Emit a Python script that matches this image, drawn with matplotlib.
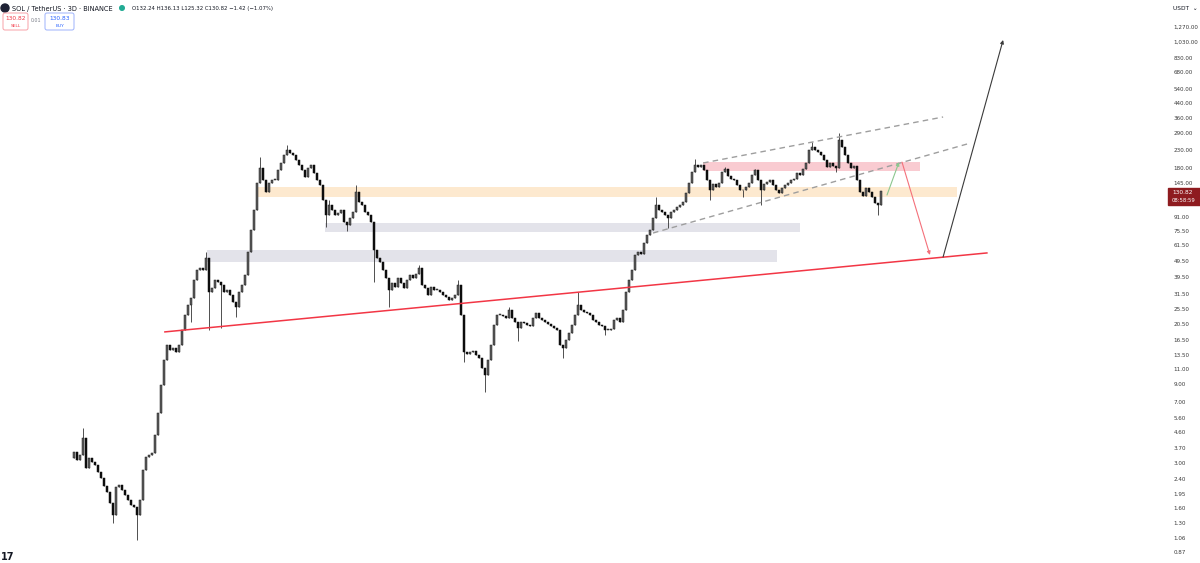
import numpy as np
import matplotlib
matplotlib.use("Agg")
import matplotlib.pyplot as plt
from matplotlib.patches import FancyBboxPatch, Rectangle, Circle

# SOL/USDT 3D closes (one value per ~3 px of chart width)
closes = [
    3.5, 3.13, 3.35, 4.25, 2.8, 3.2, 3.05, 2.92, 2.65, 2.44,
    2.18, 2.0, 1.73, 1.46, 2.15, 2.21, 2.06, 1.93, 1.80, 1.68,
    1.63, 1.46, 1.80, 2.72, 3.25, 3.35, 3.47, 4.4, 6.0, 8.86,
    12.5, 15.4, 14.4, 14.8, 14.0, 15.4, 19.0, 23.4, 26.9, 29.6,
    38.0, 43.6, 44.9, 43.6, 51.5, 32.2, 34.0, 38.0, 37.0, 35.4,
    32.2, 33.1, 30.9, 28.0, 26.0, 32.2, 35.4, 40.7, 56, 76,
    100, 146, 180, 152, 128, 146, 152, 152, 175, 192,
    215, 231, 221, 215, 201, 187, 175, 159, 180, 187,
    168, 152, 142, 115, 93.6, 107.5, 100, 93.6, 96, 100,
    85, 81.5, 90, 97.5, 128, 112, 107.5, 97.5, 93.6, 85,
    57.6, 51.5, 48.6, 43.6, 39, 33.1, 36.4, 34.5, 39, 36.4,
    34, 38, 40.7, 39, 41.2, 44.9, 35.4, 34, 30.9, 34.5,
    33.1, 33.1, 32.2, 30.9, 30.0, 28.8, 29.6, 30.9, 35.4, 23.4,
    14, 13.6, 14, 14.2, 13.4, 12.9, 11.2, 10.2, 12.5, 15.4,
    20.4, 23.4, 23.4, 23.1, 22.4, 25.1, 22.4, 21.3, 19.6, 21.3,
    21.0, 20.4, 20.1, 22.4, 24.0, 22.4, 21.8, 21.3, 20.7, 20.1,
    19.6, 19.0, 15.4, 14.8, 16.5, 18.2, 20.4, 23.4, 26.9, 25.1,
    24.5, 24.2, 23.4, 21.8, 21.3, 20.4, 20.1, 19.0, 19.0, 19.3,
    21.8, 22.4, 21.3, 25.1, 32.2, 38, 43.6, 53.8, 55.8, 54.5,
    63.5, 70.9, 76, 90, 107.5, 100.3, 97.5, 93.6, 90, 97.5,
    100.3, 104, 107.5, 112, 127, 146, 170, 187, 182, 187,
    175, 152, 132, 144, 139, 146, 170, 178, 160, 155,
    152, 142, 132, 132, 139, 146, 163, 175, 152, 132,
    144, 148, 152, 142, 132, 127, 137, 142, 146, 152,
    155, 168, 163, 178, 192, 231, 241, 231, 224, 215,
    201, 183, 192, 184, 180, 265, 241, 215, 192, 180,
    184, 152, 128, 122, 137, 128, 120, 111, 107.5, 130.8,
]
first_open = 3.2

# long wicks visible on the chart (candle index -> price)
wick_high = {3: 4.87, 44: 56, 62: 210, 71: 247, 85: 115, 94: 142, 115: 46.8,
             128: 38, 145: 26, 168: 32, 194: 120, 207: 204, 217: 183,
             227: 178, 246: 258, 255: 290}
wick_low = {13: 1.3, 21: 1.03, 39: 21.2, 45: 19.0, 49: 19.5, 54: 22.8,
            84: 79, 91: 74.6, 100: 37, 105: 26, 130: 12.2, 137: 8.0,
            148: 16.2, 163: 12.9, 177: 17.7, 198: 78, 212: 115, 223: 120,
            229: 107, 254: 170, 268: 93.6}

# price scale labels
tick_vals = [1270, 1030, 830, 680, 540, 440, 360, 290, 230, 180, 145,
             91, 75.5, 61.5, 49.5, 39.5, 31.5, 25.5, 20.5, 16.5, 13.5, 11,
             9, 7, 5.6, 4.6, 3.7, 3.0, 2.4, 1.95, 1.6, 1.3, 1.06, 0.87]

# drawings: (x in candle index, price)
trend_x, trend_p = [30.3, 304.3], [18.5, 55.3]
zones = [  # x0, x1, low, high, colour
    (61.3, 294.3, 120.2, 138.0, "#fde9cf"),
    (209.7, 282.0, 172.3, 195.2, "#f9cbd1"),
    (83.7, 242.0, 73.9, 83.8, "#e3e3ea"),
    (44.3, 234.3, 48.8, 57.6, "#e3e3ea"),
]
chan_up_x, chan_up_p = [209.7, 289.7], [192.6, 364.5]
chan_lo_x, chan_lo_p = [193.0, 297.7], [72.9, 250.6]
green_x, green_p = [271.0, 275.0], [123.5, 195.0]
red_x, red_p = [276.0, 285.3], [195.0, 53.8]
black_x, black_p = [289.7, 309.7], [52.3, 1061.0]

W, H = 1200, 563
fig = plt.figure(figsize=(W / 100, H / 100), dpi=100)
fig.patch.set_facecolor("white")
ax = fig.add_axes([0, 0, 1165 / W, 1])
ax.set_facecolor("white")
for s in ax.spines.values():
    s.set_visible(False)

ax.set_yscale("log")
ax.set_xlim((0 - 74) / 3, (1165 - 74) / 3)
ax.set_ylim(0.75, 1847)

# zones
for x0, x1, lo, hi, c in zones:
    ax.fill_between([x0, x1], lo, hi, color=c, lw=0, zorder=1)

# candles
c = np.array(closes)
o = np.concatenate([[first_open], c[:-1]])
idx = np.arange(len(c))
top = np.maximum(o, c)
bot = np.minimum(o, c)
hi = top.copy()
lo = bot.copy()
for k, v in wick_high.items():
    hi[k] = max(hi[k], v)
for k, v in wick_low.items():
    lo[k] = min(lo[k], v)
up = c >= o
ax.vlines(idx, lo, hi, color="#333333", lw=0.6, zorder=3)
height = np.maximum(top - bot, top * 0.01)
ax.bar(idx[up], height[up], bottom=bot[up], width=0.6, color="#5e5e5e",
       edgecolor="#1a1a1a", lw=0.35, zorder=4)
ax.bar(idx[~up], height[~up], bottom=bot[~up], width=0.6, color="#0d0d0d",
       edgecolor="#0d0d0d", lw=0.35, zorder=4)

# trend line and channel
ax.plot(trend_x, trend_p, color="#f23645", lw=1.1, zorder=5)
ax.plot(chan_up_x, chan_up_p, color="#9e9e9e", lw=1, ls=(0, (4, 3)), zorder=5)
ax.plot(chan_lo_x, chan_lo_p, color="#9e9e9e", lw=1, ls=(0, (4, 3)), zorder=5)

# projection arrows
def arrow(xs, ps, col):
    ax.annotate("", xy=(xs[1], ps[1]), xytext=(xs[0], ps[0]),
                arrowprops=dict(arrowstyle="-|>", color=col, lw=0.8,
                                mutation_scale=5, shrinkA=0, shrinkB=0),
                zorder=6)

arrow(green_x, green_p, "#8cc78f")
arrow(red_x, red_p, "#f4707a")
arrow(black_x, black_p, "#3a3a3a")

# price scale
ax.yaxis.tick_right()
ax.set_yticks(tick_vals)
ax.set_yticklabels([f"{v:,.2f}" for v in tick_vals])
ax.yaxis.set_minor_locator(matplotlib.ticker.NullLocator())
ax.tick_params(axis="y", length=0, pad=6, labelsize=4.1, labelcolor="#3a3a3a")
ax.set_xticks([])

# overlay in pixel units for the UI bits
ui = fig.add_axes([0, 0, 1, 1], facecolor="none")
ui.set_xlim(0, W)
ui.set_ylim(H, 0)
ui.axis("off")

ui.add_patch(Circle((5, 8), 4, color="#1e2235"))
ui.text(12, 8.5, "SOL / TetherUS · 3D · BINANCE", fontsize=4.8, color="#131722",
        va="center", ha="left")
ui.add_patch(Circle((122, 8), 2.3, color="#22ab94"))
ui.text(132, 8.5, "O132.24 H136.13 L125.32 C130.82 \u22121.42 (\u22121.07%)",
        fontsize=3.9, color="#131722", va="center", ha="left")

ui.add_patch(FancyBboxPatch((3, 13), 25, 17, boxstyle="round,pad=0,rounding_size=2",
                            fc="white", ec="#f7a1a8", lw=0.7))
ui.text(15.5, 19, "130.82", fontsize=4.2, color="#f23645", ha="center", va="center")
ui.text(15.5, 26, "SELL", fontsize=3.2, color="#f23645", ha="center", va="center")
ui.text(36, 21, "0.01", fontsize=3.4, color="#787b86", ha="center", va="center")
ui.add_patch(FancyBboxPatch((45, 13), 29, 17, boxstyle="round,pad=0,rounding_size=2",
                            fc="white", ec="#9db2fb", lw=0.7))
ui.text(59.5, 19, "130.83", fontsize=4.2, color="#2962ff", ha="center", va="center")
ui.text(59.5, 26, "BUY", fontsize=3.2, color="#2962ff", ha="center", va="center")

ui.text(1173, 8, "USDT  \u2304", fontsize=4.2, color="#131722", va="center", ha="left")

ui.add_patch(Rectangle((1168, 188), 32, 17, color="#8e1b1f"))
ui.text(1172, 193, "130.82", fontsize=4.2, color="white", va="center", ha="left")
ui.text(1172, 200.5, "08:58:59", fontsize=3.8, color="white", va="center", ha="left")

ui.text(1, 557, "17", fontsize=7, fontweight="bold", color="#131722",
        va="center", ha="left")

fig.savefig("out.png", dpi=100, facecolor="white")
